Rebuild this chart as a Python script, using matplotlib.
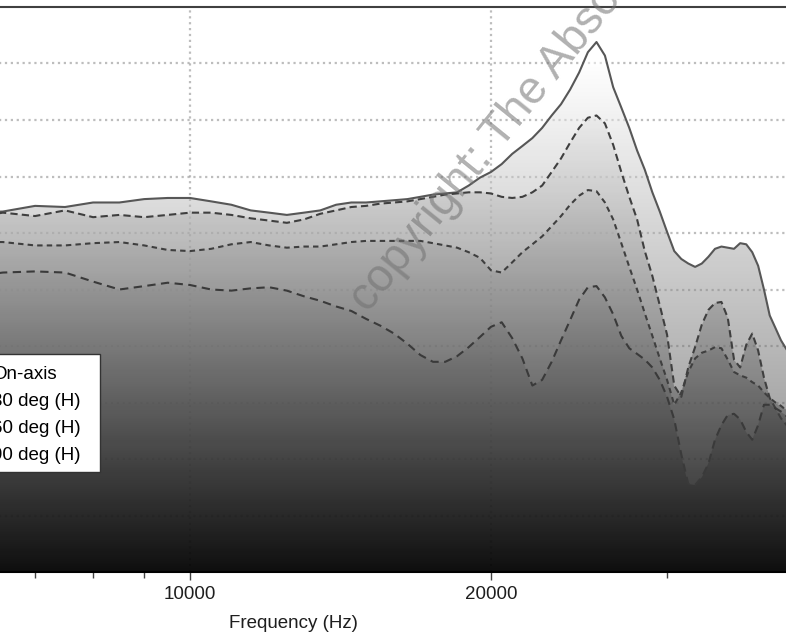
import numpy as np
import matplotlib
matplotlib.use("Agg")
import matplotlib.pyplot as plt
from matplotlib.patches import Rectangle
from matplotlib.ticker import FixedLocator, NullFormatter

plt.rcParams['font.family'] = ['Liberation Sans', 'DejaVu Sans']

# ==========================
# data
# ==========================
freq_hz = [6000, 6500, 7000, 7500, 8000, 8500, 9000, 9500,
           10000, 10500, 11000, 11500, 12000, 12500, 13000, 13500, 14000, 14500,
           15000, 15500, 16000, 16500, 17000, 17500, 18000, 18500, 19000, 19500,
           20000, 20500, 21000, 21500, 22000, 22500, 23000, 23500, 24000, 24500,
           25000, 25500, 26000, 26500, 27000, 27500, 28000, 28500, 29000, 29500,
           30000, 30500, 31000, 31500, 32000, 32500, 33000, 33500, 34000, 34500,
           35000, 35500, 36000, 36500, 37000, 37500, 38000, 38500, 39000, 39500, 40000]

on_axis = [71.8, 71.9, 72.4, 72.3, 72.7, 72.7, 73.0, 73.1,
           73.1, 72.8, 72.5, 72.0, 71.8, 71.6, 71.8, 72.0, 72.5, 72.7,
           72.7, 72.8, 72.9, 73.0, 73.2, 73.4, 73.5, 73.6, 74.2, 74.9,
           75.4, 76.1, 77.0, 77.7, 78.4, 79.3, 80.4, 81.4, 82.7, 84.2,
           86.0, 86.9, 85.7, 82.9, 81.1, 79.3, 77.3, 75.6, 73.6, 71.9,
           70.1, 68.4, 67.7, 67.3, 67.0, 67.3, 67.9, 68.6, 68.8, 68.7,
           68.6, 69.1, 69.0, 68.3, 67.1, 65.0, 62.7, 61.6, 60.5, 59.7, 59.2]

deg30 = [71.3, 71.8, 71.5, 72.0, 71.4, 71.6, 71.4, 71.6,
         71.8, 71.8, 71.6, 71.3, 71.1, 70.9, 71.2, 71.7, 72.0, 72.3,
         72.4, 72.6, 72.7, 72.8, 73.0, 73.2, 73.4, 73.5, 73.6, 73.6,
         73.5, 73.2, 73.1, 73.2, 73.6, 74.2, 75.4, 76.6, 78.0, 79.3,
         80.2, 80.4, 79.7, 77.8, 75.4, 73.2, 71.2, 68.4, 66.2, 63.6,
         61.0, 56.5, 55.5, 58.1, 59.9, 61.9, 63.2, 63.8, 63.9, 62.5,
         58.8, 58.1, 60.1, 61.1, 59.6, 57.2, 55.4, 54.5, 53.6, 53.0, 52.6]

deg60 = [69.2, 69.2, 68.9, 68.9, 69.1, 69.2, 68.9, 68.5,
         68.4, 68.6, 69.0, 69.2, 68.9, 68.7, 68.8, 68.8, 69.0, 69.2,
         69.3, 69.3, 69.3, 69.3, 69.3, 69.1, 68.9, 68.7, 68.3, 67.8,
         66.7, 66.5, 67.4, 68.3, 69.0, 69.7, 70.6, 71.5, 72.5, 73.3,
         73.8, 73.7, 72.7, 71.2, 69.1, 67.0, 65.0, 62.9, 60.9, 58.9,
         57.0, 54.8, 55.9, 57.7, 58.9, 59.4, 59.6, 59.9, 59.8, 58.8,
         57.7, 57.4, 57.2, 56.8, 56.5, 55.9, 55.4, 55.0, 54.7, 54.3, 54.2]

deg90 = [66.1, 66.5, 66.6, 66.5, 65.7, 65.0, 65.3, 65.6,
         65.4, 65.0, 64.9, 65.1, 65.2, 64.9, 64.4, 64.0, 63.5, 63.1,
         62.4, 61.8, 61.1, 60.2, 59.2, 58.6, 58.6, 59.1, 59.9, 60.8,
         61.7, 62.1, 60.7, 58.9, 56.5, 57.0, 58.6, 60.5, 62.3, 64.1,
         65.2, 65.3, 64.3, 62.8, 60.9, 59.8, 59.3, 58.8, 58.1, 57.0,
         55.5, 53.5, 50.4, 47.8, 47.7, 48.4, 49.6, 51.7, 53.0, 53.9,
         54.0, 53.5, 52.4, 51.7, 53.0, 54.8, 54.8, 54.5, 54.2, 53.8, 53.5]

labels = ["On-axis", "30 deg (H)", "60 deg (H)", "90 deg (H)"]
x_major = [10000, 20000]
x_major_labels = ["10000", "20000"]
x_minor = [7000, 8000, 9000, 30000]
y_grid = [45, 50, 55, 60, 65, 70, 75, 80, 85]
watermark = "copyright: The Absolute Sound"

curves = [on_axis, deg30, deg60, deg90]

# ==========================
# figure: the axes runs past the left edge (the picture is a crop)
# ==========================
W, H = 786, 636
fig = plt.figure(figsize=(W / 100, H / 100), dpi=100)
fig.patch.set_facecolor("white")

left_px, right_px = -810, 792
top_px, bottom_px = 7, 572
ax = fig.add_axes([left_px / W, 1 - bottom_px / H,
                   (right_px - left_px) / W, (bottom_px - top_px) / H])
ax.set_xscale("log")
ax.set_xlim(1000, 40000)
ax.set_ylim(40, 90)
ax.set_axisbelow(True)

# gradient fills, one semi-transparent layer under each curve
y_edges = np.linspace(40, 90, 301)
y_mid = (y_edges[:-1] + y_edges[1:]) / 2
for vals in curves:
    poly = ax.fill_between(freq_hz, vals, 40, facecolor="none", edgecolor="none")
    mesh = ax.pcolormesh([1000, 40000], y_edges, y_mid[:, None], cmap="gray",
                         vmin=40, vmax=85, alpha=0.5, shading="flat", zorder=1)
    mesh.set_clip_path(poly.get_paths()[0], ax.transData)

# curves
ax.plot(freq_hz, on_axis, color="#575757", lw=1.5, label=labels[0], zorder=4)
ax.plot(freq_hz, deg30, color="#3f3f3f", lw=1.5, dashes=(3.5, 2.0), label=labels[1], zorder=4)
ax.plot(freq_hz, deg60, color="#3f3f3f", lw=1.5, dashes=(2.6, 2.0), label=labels[2], zorder=4)
ax.plot(freq_hz, deg90, color="#3a3a3a", lw=1.5, dashes=(4.0, 2.6), label=labels[3], zorder=4)

# ticks and grid
ax.xaxis.set_major_locator(FixedLocator(x_major))
ax.set_xticklabels(x_major_labels)
ax.xaxis.set_minor_locator(FixedLocator(x_minor))
ax.xaxis.set_minor_formatter(NullFormatter())
ax.set_yticks(y_grid)
ax.tick_params(axis="y", which="both", left=False, labelleft=False)
ax.tick_params(axis="x", which="both", direction="out", colors="#444444",
               labelcolor="#1e1e1e", labelsize=13.5, pad=4)
ax.tick_params(axis="x", which="major", length=6, width=1)
ax.tick_params(axis="x", which="minor", length=4, width=1)
ax.grid(True, which="major", axis="both", color="#9a9a9a", ls=":", lw=1.6, alpha=0.65)

for side in ["left", "right"]:
    ax.spines[side].set_visible(False)
ax.spines["top"].set_color("#404040")
ax.spines["top"].set_linewidth(1.5)
ax.spines["bottom"].set_color("black")
ax.spines["bottom"].set_linewidth(1.5)

fig.text(293 / W, 1 - 623 / H, "Frequency (Hz)", ha="center", va="center",
         fontsize=13.5, color="#1e1e1e")

# legend: box drawn by hand so that it can run off the left edge like the crop
box = Rectangle((-30 / W, 1 - 472 / H), 130 / W, 118 / H, transform=fig.transFigure,
                facecolor="white", edgecolor="#333333", lw=1.0, zorder=5.5, clip_on=False)
ax.add_patch(box)
leg = ax.legend(loc="upper right", bbox_to_anchor=(81 / W, 1 - 366 / H),
                bbox_transform=fig.transFigure, borderaxespad=0, borderpad=0,
                fontsize=13.5, frameon=False, labelspacing=0.53)
leg.set_zorder(6)

fig.text(368 / W, 1 - 314 / H, watermark, rotation=51, rotation_mode="anchor",
         ha="left", va="baseline", fontsize=33, color="#707070", alpha=0.55)

plt.savefig("out.png", dpi=100)
